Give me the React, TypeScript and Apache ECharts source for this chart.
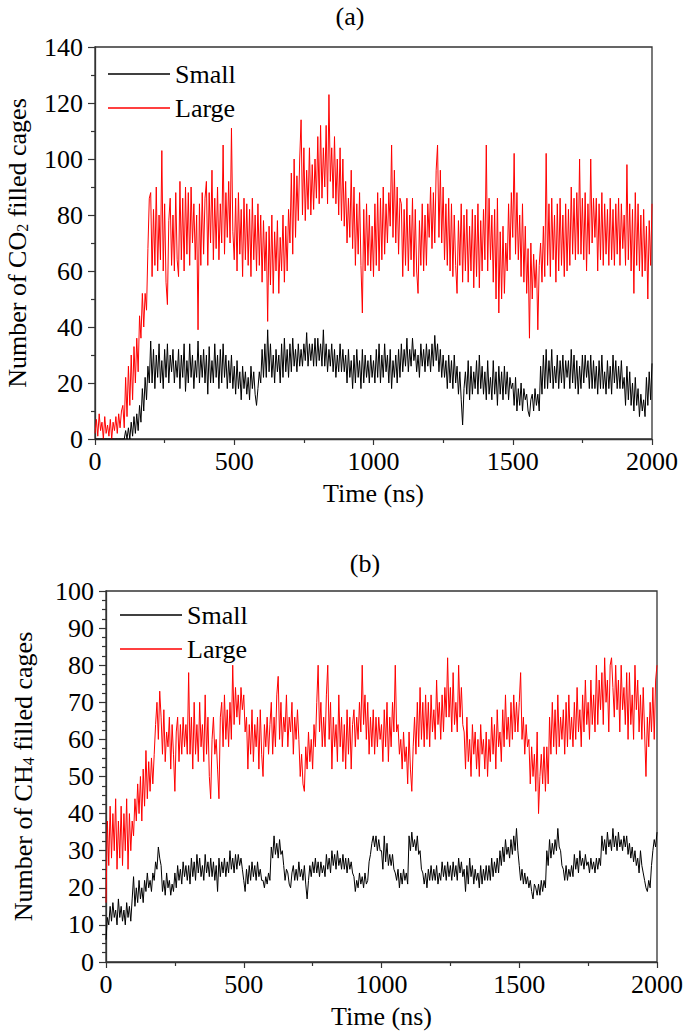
import React, { useEffect, useRef } from "react";
import * as echarts from "echarts";

// time step between samples (ns)
const STEP = 5;
const X_MAX = 2000;
const seriesNames = ["Small", "Large"];
const panelTitles = ["(a)", "(b)"];
const xAxisTitle = "Time (ns)";

// Panel (a): CO2 (one row = 100 ns)
const largeA = [
  2, 7, 1, 9, 3, 6, 0, 8, 2, 5, 1, 7, 0, 6, 3, 8, 2, 9, 4, 10,
  12, 4, 22, 8, 26, 12, 30, 14, 33, 20, 36, 24, 44, 36, 52, 40, 52, 46, 68, 86,
  88, 58, 82, 62, 90, 60, 80, 64, 103, 60, 84, 56, 48, 78, 86, 62, 80, 60, 88, 64,
  58, 92, 64, 86, 60, 90, 66, 88, 62, 90, 70, 84, 64, 80, 39, 84, 62, 88, 66, 86,
  92, 62, 88, 70, 96, 64, 86, 68, 90, 64, 84, 70, 105, 66, 88, 72, 92, 70, 111, 74,
  64, 86, 60, 88, 66, 82, 58, 86, 64, 84, 62, 82, 58, 86, 64, 80, 60, 84, 62, 80,
  56, 78, 60, 74, 42, 76, 55, 80, 52, 74, 60, 78, 52, 72, 60, 80, 56, 76, 60, 82,
  70, 95, 66, 100, 72, 94, 78, 100, 114, 80, 104, 78, 96, 82, 104, 80, 98, 82, 100, 86,
  108, 84, 112, 86, 104, 90, 112, 84, 123, 92, 104, 86, 108, 84, 100, 80, 104, 78, 100, 76,
  92, 70, 86, 72, 96, 68, 90, 62, 84, 66, 88, 62, 45, 82, 60, 84, 62, 80, 60, 76,
  58, 84, 62, 88, 60, 86, 64, 90, 66, 84, 70, 88, 76, 105, 72, 96, 70, 90, 66, 86,
  84, 58, 82, 62, 86, 60, 80, 64, 86, 58, 82, 60, 52, 78, 62, 84, 60, 80, 62, 84,
  72, 90, 68, 88, 70, 96, 105, 72, 96, 70, 90, 64, 84, 62, 86, 60, 84, 58, 80, 62,
  52, 78, 62, 84, 56, 80, 60, 82, 56, 76, 60, 82, 54, 80, 58, 84, 54, 78, 60, 82,
  64, 105, 60, 86, 64, 80, 56, 82, 50, 86, 45, 74, 50, 76, 52, 70, 60, 84, 64, 88,
  72, 102, 66, 88, 64, 80, 58, 84, 56, 76, 52, 68, 36, 70, 50, 66, 54, 64, 39, 62,
  70, 56, 76, 58, 102, 62, 84, 58, 86, 64, 80, 56, 84, 60, 86, 62, 80, 58, 84, 60,
  82, 62, 90, 66, 86, 64, 88, 66, 100, 66, 86, 64, 88, 60, 84, 66, 100, 70, 86, 72,
  86, 60, 84, 64, 88, 62, 84, 66, 82, 62, 86, 64, 82, 62, 84, 66, 86, 62, 84, 68,
  80, 62, 98, 64, 84, 60, 82, 52, 88, 62, 84, 60, 80, 58, 82, 60, 76, 50, 78, 62,
  84,
];
const smallA = [
  0, 0, 0, 0, 0, 0, 0, 0, 0, 0, 0, 0, 0, 0, 0, 0, 0, 0, 0, 0,
  0, 0, 3, 0, 4, 0, 6, 1, 8, 2, 9, 3, 12, 6, 18, 10, 22, 14, 26, 20,
  35, 20, 32, 18, 30, 22, 34, 20, 28, 18, 32, 22, 34, 20, 30, 24, 32, 20, 28, 22,
  32, 18, 30, 22, 34, 17, 28, 20, 34, 22, 30, 18, 28, 22, 35, 20, 30, 22, 32, 20,
  30, 16, 33, 20, 28, 20, 34, 22, 30, 18, 32, 20, 34, 22, 30, 18, 28, 20, 30, 18,
  26, 16, 28, 18, 24, 14, 26, 18, 24, 16, 22, 14, 26, 18, 24, 16, 12, 18, 24, 20,
  32, 22, 34, 22, 39, 24, 34, 22, 30, 20, 32, 24, 30, 20, 34, 22, 36, 24, 32, 22,
  34, 24, 36, 26, 32, 24, 34, 26, 32, 26, 34, 28, 38, 26, 34, 28, 34, 26, 36, 26,
  36, 28, 34, 26, 39, 26, 34, 24, 32, 26, 34, 24, 32, 22, 30, 24, 34, 24, 32, 24,
  30, 20, 32, 22, 28, 18, 30, 20, 32, 22, 28, 18, 32, 20, 30, 22, 28, 20, 30, 22,
  28, 20, 32, 22, 34, 20, 30, 22, 34, 24, 30, 20, 32, 18, 28, 22, 30, 20, 32, 22,
  34, 24, 32, 26, 36, 24, 32, 26, 36, 28, 32, 24, 30, 22, 34, 26, 32, 24, 34, 26,
  32, 24, 34, 26, 37, 28, 34, 24, 32, 22, 30, 22, 28, 18, 30, 20, 28, 18, 30, 20,
  26, 16, 24, 14, 5, 18, 24, 16, 28, 14, 26, 16, 24, 18, 28, 16, 30, 18, 26, 16,
  24, 14, 28, 16, 22, 14, 28, 16, 24, 12, 26, 16, 24, 14, 26, 16, 24, 14, 22, 18,
  20, 12, 22, 10, 18, 12, 20, 10, 18, 14, 16, 10, 8, 14, 16, 10, 18, 12, 16, 10,
  26, 16, 30, 18, 32, 18, 28, 20, 32, 18, 26, 20, 30, 18, 28, 20, 30, 18, 28, 22,
  28, 18, 32, 20, 30, 18, 28, 16, 26, 18, 30, 20, 30, 22, 28, 18, 30, 18, 28, 18,
  26, 16, 28, 18, 30, 18, 24, 16, 28, 18, 26, 16, 30, 20, 28, 18, 26, 18, 28, 18,
  22, 12, 26, 14, 24, 12, 20, 10, 22, 12, 18, 8, 16, 10, 14, 8, 22, 12, 24, 14,
  27,
];

// Panel (b): CH4 (one row = 100 ns)
const largeB = [
  16, 38, 26, 42, 28, 40, 30, 44, 25, 38, 28, 42, 26, 40, 30, 44, 25, 40, 30, 38,
  34, 44, 38, 48, 40, 50, 38, 52, 42, 57, 44, 54, 46, 55, 48, 56, 64, 70, 60, 73,
  66, 56, 68, 54, 62, 58, 66, 52, 64, 56, 46, 62, 66, 54, 64, 56, 66, 58, 64, 56,
  78, 56, 66, 52, 70, 56, 64, 54, 70, 58, 64, 54, 72, 56, 66, 50, 44, 60, 66, 56,
  60, 52, 44, 66, 70, 58, 72, 60, 68, 58, 70, 60, 80, 64, 74, 66, 72, 64, 74, 68,
  72, 62, 66, 52, 64, 56, 68, 54, 64, 58, 66, 52, 68, 56, 50, 64, 58, 66, 56, 64,
  70, 56, 66, 58, 72, 77, 60, 70, 58, 66, 62, 72, 58, 66, 62, 70, 56, 66, 60, 68,
  60, 50, 56, 48, 46, 58, 52, 62, 54, 60, 52, 64, 58, 70, 80, 62, 70, 58, 66, 58,
  72, 80, 60, 70, 52, 66, 58, 64, 54, 72, 58, 66, 54, 64, 52, 68, 56, 66, 52, 64,
  68, 58, 66, 60, 70, 62, 80, 64, 72, 60, 70, 56, 66, 58, 68, 56, 66, 58, 66, 60,
  64, 54, 68, 58, 70, 54, 66, 58, 70, 62, 80, 62, 64, 56, 60, 52, 62, 54, 58, 48,
  62, 52, 46, 58, 66, 56, 70, 58, 74, 60, 70, 58, 72, 60, 70, 58, 72, 62, 68, 60,
  76, 64, 70, 60, 72, 62, 74, 66, 82, 66, 74, 62, 78, 64, 70, 62, 80, 66, 74, 64,
  62, 52, 66, 54, 60, 50, 64, 56, 62, 52, 60, 50, 64, 56, 60, 52, 62, 50, 60, 54,
  66, 56, 64, 52, 68, 58, 62, 54, 68, 58, 72, 60, 66, 58, 70, 60, 72, 62, 70, 62,
  70, 78, 60, 66, 56, 64, 58, 60, 48, 58, 50, 56, 46, 62, 40, 50, 56, 48, 58, 46,
  58, 48, 66, 56, 70, 58, 68, 56, 72, 58, 66, 60, 68, 56, 70, 58, 72, 60, 66, 58,
  70, 60, 74, 62, 68, 58, 72, 62, 76, 64, 70, 60, 76, 64, 72, 62, 80, 64, 76, 68,
  78, 64, 82, 70, 76, 62, 80, 82, 74, 66, 80, 68, 76, 62, 80, 68, 74, 64, 78, 60,
  78, 64, 72, 60, 80, 68, 76, 62, 72, 60, 74, 62, 50, 66, 58, 70, 62, 74, 60, 76,
  80,
];
const smallB = [
  6, 12, 10, 15, 11, 16, 12, 14, 10, 17, 12, 15, 11, 14, 10, 16, 12, 15, 11, 17,
  23, 15, 20, 16, 22, 17, 20, 16, 22, 19, 24, 20, 22, 19, 24, 22, 27, 25, 31, 28,
  26, 19, 22, 18, 24, 20, 22, 18, 21, 19, 24, 20, 26, 22, 25, 21, 27, 23, 26, 22,
  26, 21, 28, 23, 27, 22, 29, 24, 28, 23, 26, 22, 29, 24, 27, 23, 28, 23, 27, 22,
  26, 19, 28, 23, 27, 24, 28, 23, 27, 24, 30, 25, 28, 24, 29, 25, 29, 26, 28, 25,
  22, 19, 25, 21, 26, 22, 27, 23, 26, 22, 27, 23, 25, 22, 22, 20, 23, 21, 24, 22,
  31, 28, 34, 29, 32, 28, 33, 29, 30, 26, 22, 25, 24, 21, 20, 24, 26, 22, 25, 22,
  27, 23, 25, 22, 26, 21, 17, 22, 26, 23, 27, 24, 28, 24, 27, 23, 27, 24, 26, 23,
  29, 25, 28, 24, 30, 26, 29, 25, 30, 26, 28, 25, 29, 25, 28, 24, 28, 25, 27, 24,
  23, 19, 22, 20, 24, 21, 23, 20, 24, 21, 22, 27, 29, 32, 34, 31, 34, 30, 33, 30,
  30, 25, 34, 27, 32, 26, 29, 26, 29, 25, 24, 22, 25, 20, 24, 21, 25, 22, 24, 21,
  34, 30, 35, 31, 33, 30, 34, 29, 30, 25, 24, 21, 24, 20, 25, 22, 26, 22, 25, 22,
  26, 21, 24, 22, 27, 23, 26, 22, 27, 23, 26, 22, 27, 23, 26, 22, 28, 24, 27, 23,
  25, 19, 26, 21, 28, 23, 26, 21, 25, 22, 24, 20, 26, 21, 25, 22, 26, 22, 26, 22,
  28, 23, 27, 24, 28, 24, 30, 26, 31, 27, 33, 29, 31, 28, 33, 29, 34, 30, 36, 30,
  26, 22, 25, 21, 24, 21, 23, 20, 22, 19, 17, 21, 20, 18, 21, 18, 22, 19, 22, 20,
  30, 26, 33, 28, 32, 29, 33, 30, 36, 31, 30, 26, 25, 22, 26, 22, 25, 23, 26, 23,
  29, 25, 28, 24, 30, 26, 28, 25, 29, 26, 27, 24, 28, 25, 27, 24, 28, 25, 28, 26,
  34, 30, 33, 29, 35, 31, 33, 30, 36, 31, 34, 30, 35, 31, 33, 30, 34, 31, 34, 29,
  32, 28, 31, 27, 30, 26, 28, 24, 30, 26, 24, 22, 20, 19, 22, 20, 26, 30, 33, 31,
  35,
];

const FONT = "Liberation Serif";
const AXIS_COLOR = "#333";

const toPairs = (arr: number[]) => arr.map((v, i) => [i * STEP, v]);

function xAxisFor(gridIndex: number) {
  return {
    type: "value",
    gridIndex,
    min: 0,
    max: X_MAX,
    interval: 500,
    name: xAxisTitle,
    nameLocation: "middle",
    nameGap: 41,
    nameTextStyle: { fontFamily: FONT, fontSize: 26, color: "#000" },
    axisLine: { show: true, onZero: false, lineStyle: { color: AXIS_COLOR, width: 1.3 } },
    axisTick: { show: true, inside: false, length: 6, lineStyle: { color: AXIS_COLOR, width: 1.2 } },
    minorTick: { show: true, splitNumber: 2, length: 4, lineStyle: { color: AXIS_COLOR, width: 1.2 } },
    axisLabel: { fontFamily: FONT, fontSize: 26, color: "#000", margin: 9, formatter: (v: number) => String(v) },
    splitLine: { show: false },
    minorSplitLine: { show: false },
  };
}

function yAxisFor(gridIndex: number, max: number, interval: number, minorSplit: number, gas: string, gap: number) {
  return {
    type: "value",
    gridIndex,
    min: 0,
    max,
    interval,
    name: "Number of " + gas + " filled cages",
    nameLocation: "middle",
    nameGap: gap,
    nameTextStyle: {
      fontFamily: FONT,
      fontSize: 26,
      color: "#000",
      lineHeight: 26,
      rich: {
        sub: { fontFamily: FONT, fontSize: 16, color: "#000", lineHeight: 14, verticalAlign: "bottom" },
      },
    },
    axisLine: { show: true, onZero: false, lineStyle: { color: AXIS_COLOR, width: 1.3 } },
    axisTick: { show: true, inside: false, length: 7, lineStyle: { color: AXIS_COLOR, width: 1.2 } },
    minorTick: { show: true, splitNumber: minorSplit, length: 4, lineStyle: { color: AXIS_COLOR, width: 1.2 } },
    axisLabel: { fontFamily: FONT, fontSize: 26, color: "#000", margin: 12, formatter: (v: number) => String(v) },
    splitLine: { show: false },
    minorSplitLine: { show: false },
  };
}

function lineSeries(name: string, data: number[], idx: number, color: string) {
  return {
    name,
    type: "line",
    xAxisIndex: idx,
    yAxisIndex: idx,
    data: toPairs(data),
    showSymbol: false,
    symbol: "none",
    lineStyle: { color, width: 1 },
    itemStyle: { color },
    silent: true,
  };
}

function legendFor(left: number, top: number) {
  return {
    data: seriesNames,
    orient: "vertical",
    left,
    top,
    padding: 0,
    itemGap: 8,
    icon: "rect",
    itemWidth: 62,
    itemHeight: 1.5,
    textStyle: { fontFamily: FONT, fontSize: 26, color: "#000" },
    selectedMode: false,
  };
}

export default function App() {
  const ref = useRef<HTMLDivElement>(null);
  useEffect(() => {
    if (!ref.current) return;
    const chart = echarts.init(ref.current, null, { renderer: "svg" });
    chart.setOption({
      animation: false,
      backgroundColor: "#fff",
      title: [
        { text: panelTitles[0], left: 345, top: -2, textAlign: "center", textStyle: { fontFamily: FONT, fontSize: 26, fontWeight: "normal", color: "#000" } },
        { text: panelTitles[1], left: 360, top: 545, textAlign: "center", textStyle: { fontFamily: FONT, fontSize: 26, fontWeight: "normal", color: "#000" } },
      ],
      legend: [legendFor(108, 61), legendFor(120, 602)],
      grid: [
        { left: 95, top: 47, width: 557, height: 392, show: true, borderColor: AXIS_COLOR, borderWidth: 1.3, containLabel: false, outerBoundsMode: "none" },
        { left: 106, top: 591, width: 551, height: 371, show: true, borderColor: AXIS_COLOR, borderWidth: 1.3, containLabel: false, outerBoundsMode: "none" },
      ],
      xAxis: [xAxisFor(0), xAxisFor(1)],
      yAxis: [
        yAxisFor(0, 140, 20, 2, "CO{sub|2}", 65),
        yAxisFor(1, 100, 10, 4, "CH{sub|4}", 70),
      ],
      series: [
        lineSeries(seriesNames[1], largeA, 0, "#ff0000"),
        lineSeries(seriesNames[0], smallA, 0, "#000000"),
        lineSeries(seriesNames[1], largeB, 1, "#ff0000"),
        lineSeries(seriesNames[0], smallB, 1, "#000000"),
      ],
    });
    return () => chart.dispose();
  }, []);
  return (
    <div
      ref={ref}
      style={{ position: "absolute", left: 0, top: 0, width: 685, height: 1032 }}
    />
  );
}
